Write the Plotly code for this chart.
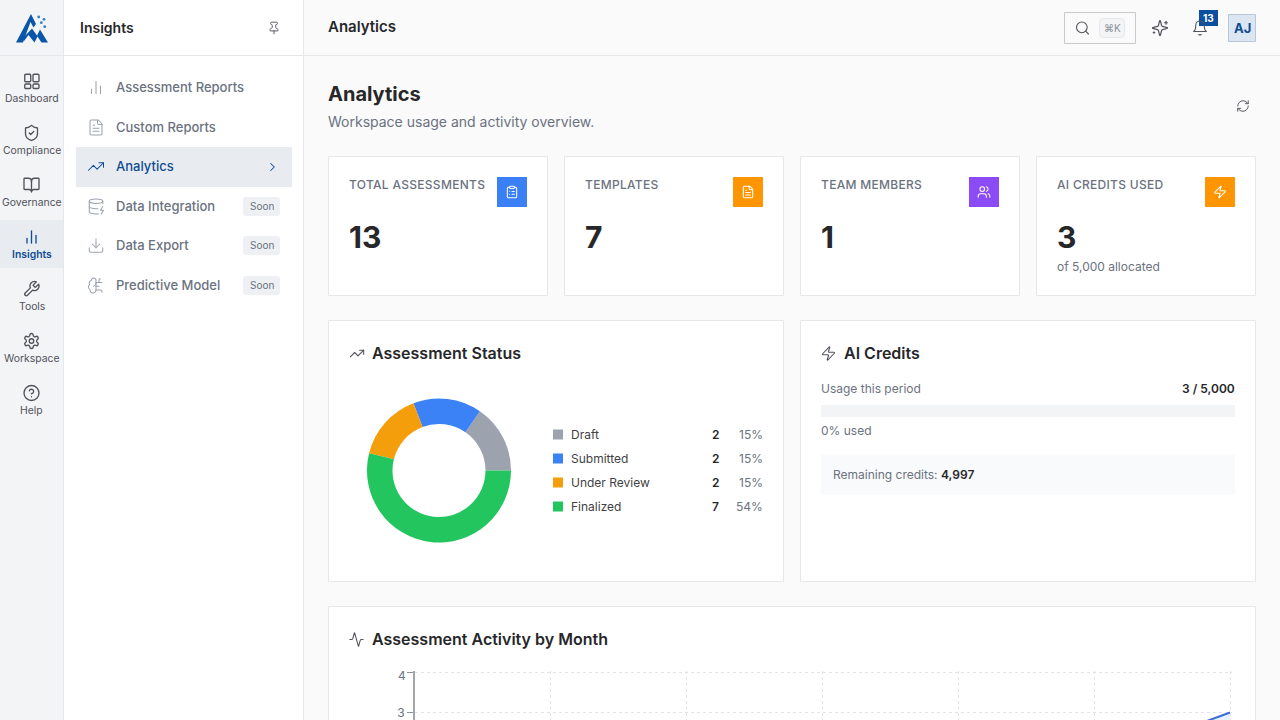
import base64
import plotly.graph_objects as go

# values
stat_labels = ["TOTAL ASSESSMENTS", "TEMPLATES", "TEAM MEMBERS", "AI CREDITS USED"]
stat_values = ["13", "7", "1", "3"]
stat_colors = ["#3b7ff6", "#ff9500", "#8b4cf6", "#ff9500"]
stat_icons = ["clipboard", "file", "users", "zap"]

status_labels = ["Draft", "Submitted", "Under Review", "Finalized"]
status_counts = [2, 2, 2, 7]
status_pcts = ["15%", "15%", "15%", "54%"]
status_colors = ["#9ca3af", "#3b82f6", "#f59e0b", "#22c55e"]

# only the last bit of this line is on screen, the earlier months are estimates
months = ["M1", "M2", "M3", "M4", "M5", "M6", "M7"]
activity = [1, 1, 2, 2, 2, 2, 3]

rail_items = ["Dashboard", "Compliance", "Governance", "Insights", "Tools", "Workspace", "Help"]
rail_icons = ["dashboard", "shield", "book", "bars", "wrench", "gear", "help"]
menu_items = ["Assessment Reports", "Custom Reports", "Analytics", "Data Integration", "Data Export", "Predictive Model"]
menu_icons = ["bars", "file", "trend", "dbzap", "download", "brain"]
menu_y = [87.5, 127.5, 166.5, 206.5, 245.5, 285.5]
menu_soon = [False, False, False, True, True, True]

W, H = 1280, 720
INK = "#27272a"
GREY = "#6b7280"
ICON_GREY = "#52525b"
BLUE = "#0f4c92"
LINE = "#e5e7eb"
FONT = "Inter"

ICONS = {
    "dashboard": '<rect x="3" y="3" width="8" height="10" rx="1.5"/><rect x="14" y="3" width="8" height="10" rx="1.5"/><rect x="3" y="16" width="8" height="6" rx="1.5"/><rect x="14" y="16" width="8" height="6" rx="1.5"/>',
    "shield": '<path d="M20 13c0 5-3.5 7.5-7.66 8.95a1 1 0 0 1-.67-.01C7.5 20.5 4 18 4 13V6a1 1 0 0 1 1-1c2 0 4.5-1.2 6.24-2.72a1.17 1.17 0 0 1 1.52 0C14.51 3.81 17 5 19 5a1 1 0 0 1 1 1z"/><path d="m9 12 2 2 4-4"/>',
    "book": '<path d="M12 7v14"/><path d="M3 18a1 1 0 0 1-1-1V4a1 1 0 0 1 1-1h5a4 4 0 0 1 4 4 4 4 0 0 1 4-4h5a1 1 0 0 1 1 1v13a1 1 0 0 1-1 1h-6a3 3 0 0 0-3 3 3 3 0 0 0-3-3z"/>',
    "bars": '<path d="M18 20V10"/><path d="M12 20V4"/><path d="M6 20v-6"/>',
    "wrench": '<path d="M14.7 6.3a1 1 0 0 0 0 1.4l1.6 1.6a1 1 0 0 0 1.4 0l3.77-3.77a6 6 0 0 1-7.94 7.94l-6.91 6.91a2.12 2.12 0 0 1-3-3l6.91-6.91a6 6 0 0 1 7.94-7.94l-3.76 3.76z"/>',
    "gear": '<path d="M12.22 2h-.44a2 2 0 0 0-2 2v.18a2 2 0 0 1-1 1.73l-.43.25a2 2 0 0 1-2 0l-.15-.08a2 2 0 0 0-2.73.73l-.22.38a2 2 0 0 0 .73 2.73l.15.1a2 2 0 0 1 1 1.72v.51a2 2 0 0 1-1 1.74l-.15.09a2 2 0 0 0-.73 2.73l.22.38a2 2 0 0 0 2.73.73l.15-.08a2 2 0 0 1 2 0l.43.25a2 2 0 0 1 1 1.73V20a2 2 0 0 0 2 2h.44a2 2 0 0 0 2-2v-.18a2 2 0 0 1 1-1.73l.43-.25a2 2 0 0 1 2 0l.15.08a2 2 0 0 0 2.73-.73l.22-.39a2 2 0 0 0-.73-2.73l-.15-.08a2 2 0 0 1-1-1.74v-.5a2 2 0 0 1 1-1.74l.15-.09a2 2 0 0 0 .73-2.73l-.22-.38a2 2 0 0 0-2.73-.73l-.15.08a2 2 0 0 1-2 0l-.43-.25a2 2 0 0 1-1-1.73V4a2 2 0 0 0-2-2z"/><circle cx="12" cy="12" r="3"/>',
    "help": '<circle cx="12" cy="12" r="10"/><path d="M9.09 9a3 3 0 0 1 5.83 1c0 2-3 3-3 3"/><path d="M12 17h.01"/>',
    "pin": '<path d="M12 17v5"/><path d="M9 10.76a2 2 0 0 1-1.11 1.79l-1.78.9A2 2 0 0 0 5 15.24V16a1 1 0 0 0 1 1h12a1 1 0 0 0 1-1v-.76a2 2 0 0 0-1.11-1.79l-1.78-.9A2 2 0 0 1 15 10.76V7a1 1 0 0 1 1-1 2 2 0 0 0 0-4H8a2 2 0 0 0 0 4 1 1 0 0 1 1 1z"/>',
    "file": '<path d="M15 2H6a2 2 0 0 0-2 2v16a2 2 0 0 0 2 2h12a2 2 0 0 0 2-2V7Z"/><path d="M14 2v4a2 2 0 0 0 2 2h4"/><path d="M10 9H8"/><path d="M16 13H8"/><path d="M16 17H8"/>',
    "trend": '<path d="M22 7 13.5 15.5 8.5 10.5 2 17"/><path d="M16 7h6v6"/>',
    "chevron": '<path d="m9 18 6-6-6-6"/>',
    "dbzap": '<ellipse cx="12" cy="5" rx="9" ry="3"/><path d="M3 5V19A9 3 0 0 0 15 21.84"/><path d="M21 5V8"/><path d="M21 12L18 17H22L19 22"/><path d="M3 12A9 3 0 0 0 14.59 14.87"/>',
    "download": '<path d="M21 15v4a2 2 0 0 1-2 2H5a2 2 0 0 1-2-2v-4"/><path d="M7 10l5 5 5-5"/><path d="M12 15V3"/>',
    "brain": '<path d="M12 5a3 3 0 1 0-5.997.125 4 4 0 0 0-2.526 5.77 4 4 0 0 0 .556 6.588A4 4 0 1 0 12 18Z"/><path d="M9 13a4.5 4.5 0 0 0 3-4"/><path d="M12 13h4"/><path d="M12 18h6a2 2 0 0 1 2 2v1"/><path d="M12 8h8"/><path d="M16 8V5a2 2 0 0 1 2-2"/>',
    "search": '<circle cx="11" cy="11" r="8"/><path d="m21 21-4.3-4.3"/>',
    "sparkles": '<path d="M9.937 15.5A2 2 0 0 0 8.5 14.063l-6.135-1.582a.5.5 0 0 1 0-.962L8.5 9.936A2 2 0 0 0 9.937 8.5l1.582-6.135a.5.5 0 0 1 .963 0L14.063 8.5A2 2 0 0 0 15.5 9.937l6.135 1.581a.5.5 0 0 1 0 .964L15.5 14.063a2 2 0 0 0-1.437 1.437l-1.582 6.135a.5.5 0 0 1-.963 0z"/><path d="M20 3v4"/><path d="M22 5h-4"/><path d="M4 17v2"/><path d="M5 18H3"/>',
    "bell": '<path d="M6 8a6 6 0 0 1 12 0c0 7 3 9 3 9H3s3-2 3-9"/><path d="M10.3 21a1.94 1.94 0 0 0 3.4 0"/>',
    "refresh": '<path d="M3 12a9 9 0 0 1 9-9 9.75 9.75 0 0 1 6.74 2.74L21 8"/><path d="M21 3v5h-5"/><path d="M21 12a9 9 0 0 1-9 9 9.75 9.75 0 0 1-6.74-2.74L3 16"/><path d="M8 16H3v5"/>',
    "clipboard": '<rect x="8" y="2" width="8" height="4" rx="1"/><path d="M16 4h2a2 2 0 0 1 2 2v14a2 2 0 0 1-2 2H6a2 2 0 0 1-2-2V6a2 2 0 0 1 2-2h2"/><path d="M12 11h4"/><path d="M12 16h4"/><path d="M8 11h.01"/><path d="M8 16h.01"/>',
    "users": '<path d="M16 21v-2a4 4 0 0 0-4-4H6a4 4 0 0 0-4 4v2"/><circle cx="9" cy="7" r="4"/><path d="M22 21v-2a4 4 0 0 0-3-3.87"/><path d="M16 3.13a4 4 0 0 1 0 7.75"/>',
    "zap": '<path d="M4 14a1 1 0 0 1-.78-1.63l9.9-10.2a.5.5 0 0 1 .86.46l-1.92 6.02A1 1 0 0 0 13 10h7a1 1 0 0 1 .78 1.63l-9.9 10.2a.5.5 0 0 1-.86-.46l1.92-6.02A1 1 0 0 0 11 14z"/>',
    "activity": '<path d="M22 12h-2.48a2 2 0 0 0-1.93 1.46l-2.35 8.36a.25.25 0 0 1-.48 0L9.24 2.18a.25.25 0 0 0-.48 0l-2.35 8.36A2 2 0 0 1 4.49 12H2"/>',
}

LOGO = ('<svg xmlns="http://www.w3.org/2000/svg" viewBox="0 0 32 30"><g fill="#0b56a8">'
        '<path d="M15 0 L20 10 L17.5 13.5 L14.5 8 L7 28.5 L0 28.5 Z"/>'
        '<path d="M7 24 L16 14.5 L21 21.5 L24 15.5 L32 28.5 L25.5 28.5 L21.5 22.5 L18.5 28.5 L12.5 21 L8 27 Z"/>'
        '</g><g fill="#2f80d0"><circle cx="22.7" cy="3" r="1.4"/><circle cx="28" cy="5.3" r="1.4"/>'
        '<circle cx="25.3" cy="8.7" r="1.4"/><circle cx="28.7" cy="12.7" r="1.4"/></g></svg>')


def px(x):
    return x / W


def py(y):
    return 1 - y / H


shapes = []
annotations = []
images = []


def rect(x0, y0, x1, y1, fill, line=None, radius=0, lw=1):
    spec = dict(xref="paper", yref="paper", fillcolor=fill, layer="below",
                line=dict(color=line or "rgba(0,0,0,0)", width=lw if line else 0))
    if radius:
        r = radius
        p = (f"M{px(x0 + r)},{py(y0)} L{px(x1 - r)},{py(y0)} Q{px(x1)},{py(y0)} {px(x1)},{py(y0 + r)} "
             f"L{px(x1)},{py(y1 - r)} Q{px(x1)},{py(y1)} {px(x1 - r)},{py(y1)} "
             f"L{px(x0 + r)},{py(y1)} Q{px(x0)},{py(y1)} {px(x0)},{py(y1 - r)} "
             f"L{px(x0)},{py(y0 + r)} Q{px(x0)},{py(y0)} {px(x0 + r)},{py(y0)} Z")
        spec.update(type="path", path=p)
    else:
        spec.update(type="rect", x0=px(x0), x1=px(x1), y0=py(y0), y1=py(y1))
    shapes.append(spec)


def text(x, y, s, size=12, color=GREY, weight=400, anchor="left", spacing=None):
    if spacing:
        s = f'<span style="letter-spacing:{spacing}px">{s}</span>'
    annotations.append(dict(xref="paper", yref="paper", x=px(x), y=py(y), text=s, showarrow=False,
                            xanchor=anchor, yanchor="middle", borderpad=0, borderwidth=0,
                            font=dict(family=FONT, size=size, color=color, weight=weight)))


def svg_image(svg, x, y, w, h):
    src = "data:image/svg+xml;base64," + base64.b64encode(svg.encode()).decode()
    images.append(dict(source=src, xref="paper", yref="paper", x=px(x), y=py(y), sizex=w / W, sizey=h / H,
                       xanchor="left", yanchor="top", sizing="stretch", layer="above"))


def icon(name, cx, cy, size, color, sw=2):
    svg = (f'<svg xmlns="http://www.w3.org/2000/svg" width="{size}" height="{size}" viewBox="0 0 24 24" fill="none" '
           f'stroke="{color}" stroke-width="{sw}" stroke-linecap="round" stroke-linejoin="round">{ICONS[name]}</svg>')
    svg_image(svg, cx - size / 2, cy - size / 2, size, size)


# frame
rect(0, 0, 63, H, "#f3f4f6")
rect(63, 0, 64, H, LINE)
rect(64, 0, 303, H, "#ffffff")
rect(303, 0, 304, H, LINE)
rect(0, 55, W, 56, LINE)
svg_image(LOGO, 16, 14, 32, 30)

# icon rail
rect(0, 220, 63, 268, "#e8ecf1")
for i, (label, name) in enumerate(zip(rail_items, rail_icons)):
    active = label == "Insights"
    c = BLUE if active else ICON_GREY
    icon(name, 31.5, 81 + 52 * i, 18, c, 1.8)
    text(31.5, 98.4 + 52 * i, label, size=10.4, color=c, weight=600 if active else 400, anchor="center")

# menu
text(80, 28, "Insights", size=14, color=INK, weight=600)
icon("pin", 274, 28, 14, ICON_GREY, 1.6)
rect(76, 147, 292, 187, "#e8ecf1")
icon("chevron", 272.5, 167, 14, BLUE, 1.8)
for label, name, y, soon in zip(menu_items, menu_icons, menu_y, menu_soon):
    active = label == "Analytics"
    icon(name, 96, y, 18, BLUE if active else "#9ca3af", 1.4)
    text(116, y - 0.5, label, size=13, color=BLUE if active else GREY, weight=500)
    if soon:
        rect(243, y - 9.5, 280, y + 9.5, "#eef0f4", radius=3)
        text(261.5, y - 0.5, "Soon", size=10, color=GREY, anchor="center")

# top bar
text(328, 27, "Analytics", size=15, color=INK, weight=600)
rect(1064.5, 12.5, 1135.5, 43.5, "#fafafa", line="#c9cacc")
icon("search", 1082.5, 28, 16, ICON_GREY, 1.6)
rect(1099.5, 18.5, 1124.5, 37.5, "#f3f4f6", line=LINE, radius=4)
text(1112, 28, "⌘K", size=10, color="#8a8f98", anchor="center")
icon("sparkles", 1160, 28, 18, ICON_GREY, 1.6)
icon("bell", 1200, 28, 17, ICON_GREY, 1.5)
rect(1199, 10, 1218, 26, "#0b4f9e")
text(1208.5, 17.5, "13", size=10, color="#ffffff", weight=700, anchor="center")
rect(1228.5, 14.5, 1255.5, 41.5, "#dce6f2", line="#b7c6d8")
text(1242, 28, "AJ", size=13, color=BLUE, weight=700, anchor="center")

# page heading
text(328, 94, "Analytics", size=20, color=INK, weight=700)
text(328, 121.5, "Workspace usage and activity overview.", size=14, color=GREY)
icon("refresh", 1243, 106, 14, ICON_GREY, 1.6)

# stat cards
for i, (label, value, color, name) in enumerate(zip(stat_labels, stat_values, stat_colors, stat_icons)):
    x0 = 328 + 236 * i
    rect(x0 + 0.5, 156.5, x0 + 219.5, 295.5, "#ffffff", line=LINE)
    text(x0 + 21, 184.5, label, size=12, color=GREY, weight=500, spacing=0.3)
    rect(x0 + 169, 177, x0 + 199, 207, color)
    icon(name, x0 + 184, 192, 14, "#ffffff", 1.8)
    text(x0 + 21, 236.5, value, size=30, color=INK, weight=700)
text(1057, 266.5, "of 5,000 allocated", size=12, color=GREY)

# panels
rect(328.5, 320.5, 783.5, 581.5, "#ffffff", line=LINE)
rect(800.5, 320.5, 1255.5, 581.5, "#ffffff", line=LINE)
rect(328.5, 606.5, 1255.5, 760, "#ffffff", line=LINE)

icon("trend", 357, 353.5, 16, ICON_GREY, 1.6)
text(372, 353, "Assessment Status", size=16, color=INK, weight=600)
for i, (label, count, pct, color) in enumerate(zip(status_labels, status_counts, status_pcts, status_colors)):
    y = 434.5 + 24 * i
    rect(553, y - 5, 563, y + 5, color)
    text(571, y, label, size=12, color="#3f3f46")
    text(719, y, str(count), size=12, color=INK, weight=600, anchor="right")
    text(763, y, pct, size=12, color=GREY, anchor="right")

icon("zap", 828.5, 353.5, 16, ICON_GREY, 1.6)
text(844, 353, "AI Credits", size=16, color=INK, weight=600)
text(821, 388.5, "Usage this period", size=12, color=GREY)
text(1235, 388.5, "3 / 5,000", size=12, color=INK, weight=600, anchor="right")
rect(821, 405, 1235, 417, "#f3f4f6")
text(821, 430.5, "0% used", size=12, color=GREY)
rect(821, 455, 1235, 495, "#f9fafb")
text(833, 474.5, "Remaining credits:", size=12, color=GREY)
text(941, 474.5, "4,997", size=12, color=INK, weight=600)

icon("activity", 356.5, 639.5, 16, ICON_GREY, 1.6)
text(372, 639, "Assessment Activity by Month", size=16, color=INK, weight=600)
text(406, 675, "4", size=12, color=GREY, anchor="right")

first_slice = 360 * status_counts[0] / sum(status_counts)

fig = go.Figure()
fig.add_trace(go.Pie(labels=status_labels, values=status_counts, hole=0.646, sort=False, direction="counterclockwise",
                     rotation=90 - first_slice, textinfo="none", marker=dict(colors=status_colors, line=dict(width=0)),
                     domain=dict(x=[px(367), px(511)], y=[py(542.5), py(398.5)]), showlegend=False))
fig.add_trace(go.Scatter(x=months, y=activity, mode="lines", line=dict(color="#3b6fd8", width=2, shape="spline"),
                         fill="tozeroy", fillcolor="rgba(59,130,246,0.12)", showlegend=False))

# axes run a little past the last grid lines, plotly drops grid lines sitting right on the edge
fig.update_layout(
    width=W, height=H, margin=dict(l=0, r=0, t=0, b=0), autosize=False,
    paper_bgcolor="#fafafa", plot_bgcolor="rgba(0,0,0,0)", hovermode=False,
    shapes=shapes, annotations=annotations, images=images,
    xaxis=dict(domain=[px(415), px(1231.5)], range=[1 / 136, 6 + 1.5 / 136], type="category",
               categoryorder="array", categoryarray=months,
               showgrid=True, gridcolor="#e2e4e8", griddash="3px,3px", gridwidth=1, showticklabels=False,
               ticks="", zeroline=False, showline=False, fixedrange=True),
    yaxis=dict(domain=[py(720), py(670.5)], range=[4 - 48 / 40.5, 4 + 1.5 / 40.5], tickvals=[3, 4], ticktext=["3", ""],
               ticks="outside", ticklen=6, tickcolor="#8f9399", tickfont=dict(family=FONT, size=12, color=GREY),
               showgrid=True, gridcolor="#e2e4e8", griddash="3px,3px", gridwidth=1, zeroline=False, showline=True,
               linecolor="#a3a6ab", linewidth=2, fixedrange=True),
)

fig.write_html("out.html", config=dict(displayModeBar=False),
               post_script="document.body.style.margin='0';document.body.style.overflow='hidden';")
